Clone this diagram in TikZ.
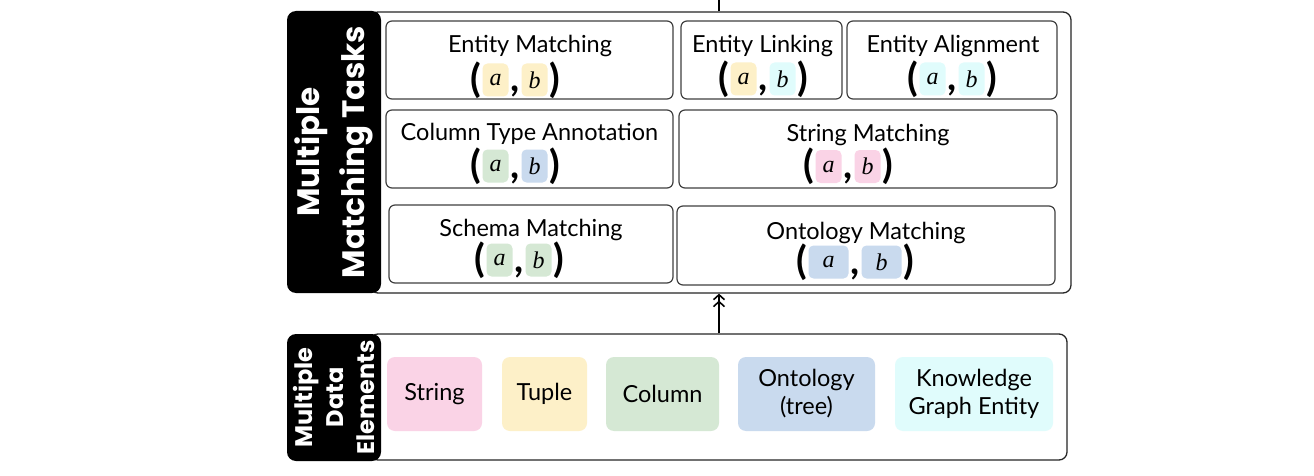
\documentclass[tikz,border=0pt]{standalone}
\usepackage{fontspec}
\setmainfont{Lato}
\newfontfamily\heavyfont{Poppins}
\newfontfamily\letterfont{Liberation Serif}
\usetikzlibrary{arrows.meta}
\usetikzlibrary{calc}

\definecolor{strcol}{HTML}{FAD3E6}
\definecolor{tupcol}{HTML}{FDF0C8}
\definecolor{colcol}{HTML}{D5E8D4}
\definecolor{ontcol}{HTML}{C9DAEE}
\definecolor{kgcol}{HTML}{E0FCFC}

\tikzset{
	outer/.style={draw=black!85, line width=1.3pt, rounded corners=8pt, fill=white},
	blackbox/.style={fill=black, rounded corners=9pt, text=white, align=center, rotate=90},
	task/.style={draw=black!75, line width=1.2pt, rounded corners=6pt, minimum height=78pt},
	title/.style={anchor=base, inner sep=0pt, font=\fontsize{23.5}{27}\selectfont},
	item/.style={rounded corners=8pt, minimum height=74pt, align=center, font=\fontsize{23.5}{28}\selectfont},
	elem/.style={rounded corners=5pt, minimum height=33pt, inner sep=0pt, font=\letterfont\itshape\fontsize{24}{26}\selectfont},
	paren/.style={inner sep=0pt, font=\bfseries\fontsize{39}{42}\selectfont},
	conn/.style={line width=1.4pt},
	dbl/.style={-{Straight Barb[length=5pt,width=11pt,line width=1.6pt]Straight Barb[length=5pt,width=11pt,line width=1.6pt]}}
}

% ( a , b ) : name, x, y, colour of a, colour of b, width of the boxes
\newcommand{\pair}[6]{%
	\node[paren] (#1-l) at ({#2-#6-13.5},#3) {(};
	\node[elem, fill=#4, minimum width=#6] (#1-a) at ({#2-#6/2-6.5},#3) {a};
	\node[paren, anchor=base] (#1-c) at (#2,#3+12) {,};
	\node[elem, fill=#5, minimum width=#6] (#1-b) at ({#2+#6/2+6.5},#3) {b};
	\node[paren] (#1-r) at ({#2+#6+13.5},#3) {)};
}

\begin{document}
\begin{tikzpicture}[x=1pt, y=-1pt]
		\useasboundingbox (0,0) rectangle (1314,476);
		% matching tasks
		\node[outer, minimum width=701, minimum height=281] (tasks) at (720.5,152.5) {};
		\node[blackbox, minimum width=282, minimum height=94, font=\heavyfont\bfseries\fontsize{31}{45}\selectfont] (tasklab) at (334,152) {Multiple\\Matching Tasks};
		\node[task, minimum width=287] (em) at (529.5,60) {};
		\node[task, minimum width=161] (el) at (761.5,60) {};
		\node[task, minimum width=210] (ea) at (952,60) {};
		\node[task, minimum width=287] (ct) at (529.5,149) {};
		\node[task, minimum width=378] (sm) at (868,149) {};
		\node[task, minimum width=284] (sch) at (531,244) {};
		\node[task, minimum width=378, minimum height=79] (om) at (866,245.5) {};
		\node[title] (em-t) at (530,53) {Entity Matching};
		\node[title] (el-t) at (762.5,53) {Entity Linking};
		\node[title] (ea-t) at (953,53) {Entity Alignment};
		\node[title] (ct-t) at (529.5,141) {Column Type Annotation};
		\node[title] (sm-t) at (868,142) {String Matching};
		\node[title] (sch-t) at (531,236) {Schema Matching};
		\node[title] (om-t) at (866,239) {Ontology Matching};
		\pair{em}{515}{80}{tupcol}{tupcol}{26}
		\pair{el}{763}{79}{tupcol}{kgcol}{26}
		\pair{ea}{952}{79}{kgcol}{kgcol}{26}
		\pair{ct}{515}{166}{colcol}{ontcol}{26}
		\pair{sm}{848}{166.5}{strcol}{strcol}{26}
		\pair{sch}{519}{260}{colcol}{colcol}{26}
		\pair{om}{855}{262}{ontcol}{ontcol}{40}
		
		% data elements
		\node[outer, minimum width=697, minimum height=126] (elems) at (718.5,397) {};
		\node[blackbox, minimum width=127, minimum height=94, font=\heavyfont\bfseries\fontsize{24}{31}\selectfont] (elemlab) at (334,397.5) {Multiple\\Data\\Elements};
		\node[item, fill=strcol, minimum width=95] (str) at (434.5,394) {String};
		\node[item, fill=tupcol, minimum width=85] (tup) at (544.5,394) {Tuple};
		\node[item, fill=colcol, minimum width=113] (col) at (662.5,394) {Column};
		\node[item, fill=ontcol, minimum width=137] (ont) at (806.5,394) {Ontology\\(tree)};
		\node[item, fill=kgcol, minimum width=158] (kg) at (974,394) {Knowledge\\Graph Entity};
		
		\coordinate (up) at (719,0);
		\draw[conn] (tasks.north -| up) -- (up);
		\draw[conn, dbl] (elems.north -| up) -- (tasks.south -| up);
	\end{tikzpicture}
\end{document}
